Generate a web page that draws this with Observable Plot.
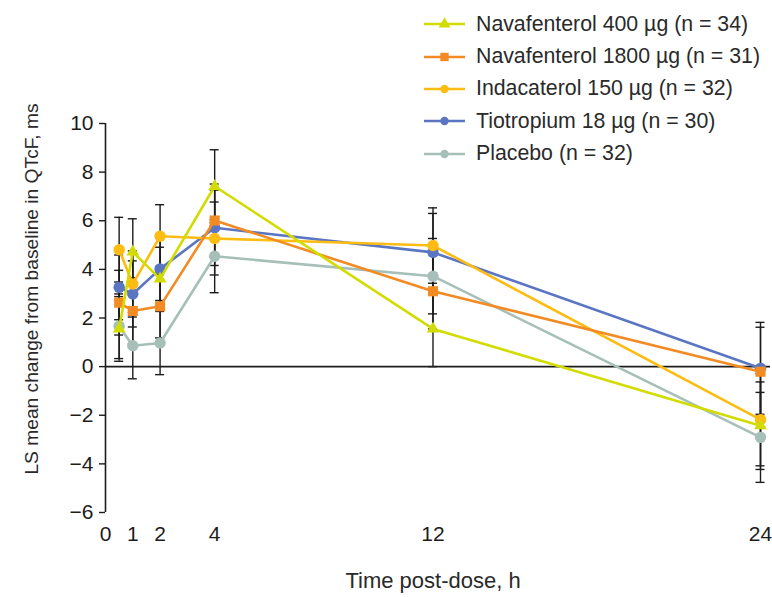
<!DOCTYPE html>
<html>
<head>
<meta charset="utf-8">
<script src="https://cdn.jsdelivr.net/npm/d3@7"></script>
<script src="https://cdn.jsdelivr.net/npm/@observablehq/plot@0.6"></script>
<style>
  html, body { margin: 0; padding: 0; background: #fff; }
  #wrap { position: relative; width: 772px; height: 597px; font-family: "Liberation Sans", Arial, Helvetica, sans-serif; }
  #legend { position: absolute; left: 423px; top: 8px; color: #2a2a2a; font-size: 21.3px; }
  .row { display: flex; align-items: center; height: 32.4px; white-space: nowrap; }
  .row svg { margin-right: 9px; }
</style>
</head>
<body>
<div id="wrap"><div id="legend"></div></div>
<script>
// ---- data ----
const times = [0.5, 1, 2, 4, 12, 24];
const seriesNames = [
  "Navafenterol 400 µg (n = 34)",
  "Navafenterol 1800 µg (n = 31)",
  "Indacaterol 150 µg (n = 32)",
  "Tiotropium 18 µg (n = 30)",
  "Placebo (n = 32)"
];
const nav400 = [1.55, 4.72, 3.61, 7.42, 1.55, -2.43];
const nav400Err = [1.33, 1.36, 1.30, 1.50, 1.55, 1.80];
const nav1800 = [2.63, 2.29, 2.48, 6.01, 3.10, -0.21];
const nav1800Err = [1.33, 1.36, 1.30, 1.50, 1.55, 1.83];
const inda = [4.81, 3.40, 5.36, 5.27, 4.98, -2.18];
const indaErr = [1.33, 1.36, 1.30, 1.50, 1.55, 1.90];
const tio = [3.26, 2.99, 4.02, 5.71, 4.70, -0.07];
const tioErr = [1.33, 1.36, 1.30, 1.55, 1.60, 1.89];
const placebo = [1.66, 0.86, 0.97, 4.54, 3.72, -2.91];
const placeboErr = [1.33, 1.36, 1.30, 1.50, 1.55, 1.85];
const colors = ["#d3dc00", "#f38b24", "#fdbc12", "#5a76c3", "#a7bfb9"];
const symbols = ["triangle", "square", "circle", "circle", "circle"];
const radii = [4.7, 5.7, 5.7, 5.7, 5.7];
const yTicks = [-6, -4, -2, 0, 2, 4, 6, 8, 10];
const xTicks = [0, 1, 2, 4, 12, 24];
const yTitle = "LS mean change from baseline in QTcF, ms";
const xTitle = "Time post-dose, h";

const values = [nav400, nav1800, inda, tio, placebo];
const errs = [nav400Err, nav1800Err, indaErr, tioErr, placeboErr];
const rows = [];
seriesNames.forEach((s, k) => times.forEach((t, i) =>
  rows.push({series: s, k, time: t, value: values[k][i], err: errs[k][i]})));

const font = '"Liberation Sans", Arial, Helvetica, sans-serif';
const ink = "#1c1c1c";

const seriesMarks = [];
[4, 3, 2, 1, 0].forEach(k => {
  const d = rows.filter(r => r.k === k);
  seriesMarks.push(Plot.line(d, {x: "time", y: "value", stroke: colors[k], strokeWidth: 2.6}));
  seriesMarks.push(Plot.dot(d, {x: "time", y: "value", fill: colors[k], symbol: symbols[k], r: radii[k], stroke: "none"}));
});

const chart = Plot.plot({
  width: 772,
  height: 597,
  marginTop: 123,
  marginBottom: 85,
  marginLeft: 105,
  marginRight: 2,
  x: {domain: [0, 24], range: [105, 760]},
  y: {domain: [-6, 10]},
  style: {fontFamily: font, fontSize: "21px", color: ink, background: "transparent", overflow: "visible"},
  marks: [
    Plot.ruleY([0], {stroke: ink, strokeWidth: 1.6}),
    Plot.ruleX([0], {stroke: ink, strokeWidth: 1.6}),
    Plot.axisY({ticks: yTicks, tickSize: 6, tickPadding: 6, label: null, fontSize: 21, stroke: ink, strokeWidth: 1.4}),
    Plot.axisX({ticks: xTicks, tickSize: 0, tickPadding: 14, label: null, fontSize: 21}),
    Plot.ruleX(rows, {x: "time", y1: d => d.value - d.err, y2: d => d.value + d.err, stroke: ink, strokeWidth: 1.4}),
    Plot.ruleY(rows, {y: d => d.value + d.err, x1: "time", x2: "time", insetLeft: -4.5, insetRight: -4.5, stroke: ink, strokeWidth: 1.4}),
    Plot.ruleY(rows, {y: d => d.value - d.err, x1: "time", x2: "time", insetLeft: -4.5, insetRight: -4.5, stroke: ink, strokeWidth: 1.4}),
    ...seriesMarks,
    Plot.text([yTitle], {frameAnchor: "left", textAnchor: "middle", rotate: -90, dx: -74, dy: -29, fontSize: 19.2, fill: "#2a2a2a"}),
    Plot.text([xTitle], {frameAnchor: "bottom", dy: 75, dx: -5, fontSize: 22, fill: "#2a2a2a"})
  ]
});
document.getElementById("wrap").prepend(chart);

// ---- legend ----
const legend = d3.select("#legend");
seriesNames.forEach((s, k) => {
  const row = legend.append("div").attr("class", "row");
  const svg = row.append("svg").attr("width", 44).attr("height", 20);
  svg.append("line").attr("x1", 1).attr("x2", 42).attr("y1", 10).attr("y2", 10)
    .attr("stroke", colors[k]).attr("stroke-width", 2.6);
  const sym = {triangle: d3.symbolTriangle, square: d3.symbolSquare, circle: d3.symbolCircle}[symbols[k]];
  const size = symbols[k] === "triangle" ? 60 : (symbols[k] === "square" ? 70 : 55);
  svg.append("path").attr("transform", "translate(21.5,10)")
    .attr("d", d3.symbol(sym, size)()).attr("fill", colors[k]);
  row.append("span").text(s);
});
</script>
</body>
</html>
